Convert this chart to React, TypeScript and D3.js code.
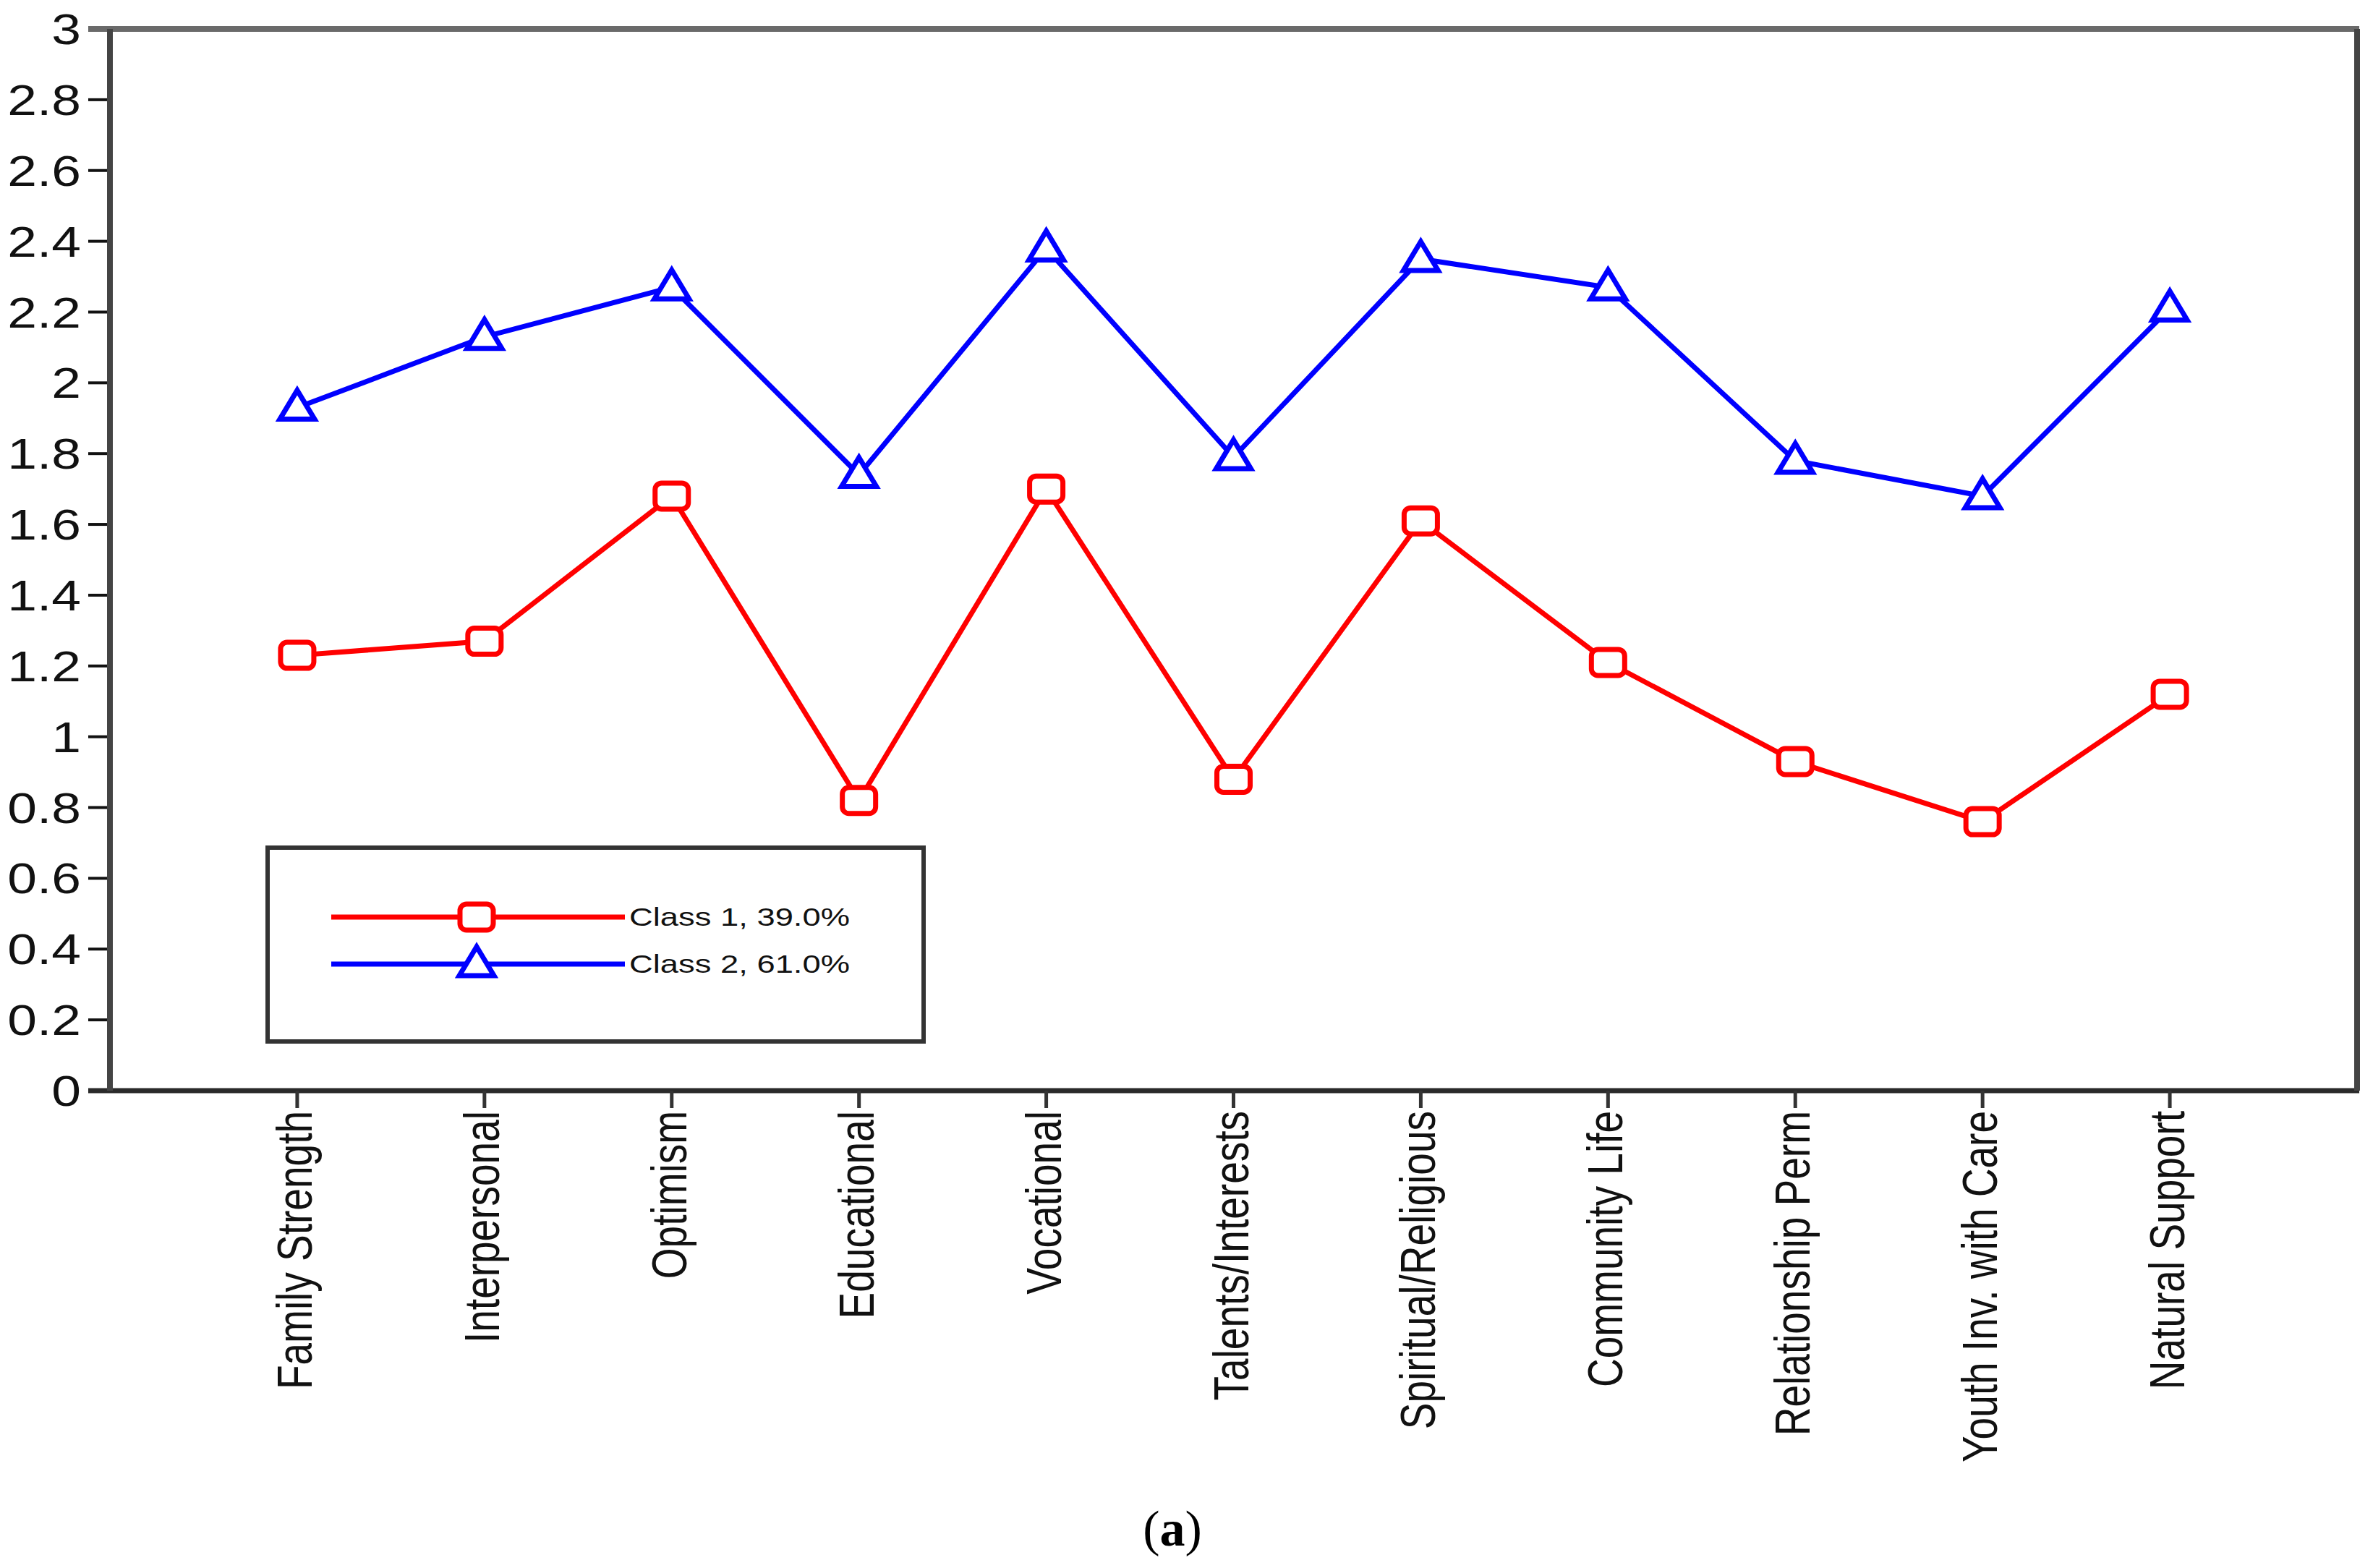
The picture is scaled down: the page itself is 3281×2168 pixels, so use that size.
import React from "react";
import * as d3 from "d3";

// Indicator categories along the x axis
const categories = [
  "Family Strength",
  "Interpersonal",
  "Optimism",
  "Educational",
  "Vocational",
  "Talents/Interests",
  "Spiritual/Religious",
  "Community Life",
  "Relationship Perm",
  "Youth Inv. with Care",
  "Natural Support",
];

// Mean scores per latent class
const class1Values = [1.23, 1.27, 1.68, 0.82, 1.70, 0.88, 1.61, 1.21, 0.93, 0.76, 1.12];
const class2Values = [1.93, 2.13, 2.27, 1.74, 2.38, 1.79, 2.35, 2.27, 1.78, 1.68, 2.21];

const seriesNames = ["Class 1, 39.0%", "Class 2, 61.0%"];
const yTickValues = [0, 0.2, 0.4, 0.6, 0.8, 1, 1.2, 1.4, 1.6, 1.8, 2, 2.2, 2.4, 2.6, 2.8, 3];

const W = 3281;
const H = 2168;
const plot = { left: 152, right: 3259, top: 40, bottom: 1508 };
const FONT = "'Liberation Sans', Arial, sans-serif";
const RED = "#ff0000";
const BLUE = "#0000ff";

function SquareMarker({ x, y, color }: { x: number; y: number; color: string }) {
  const w = 46, h = 36;
  return (
    <rect x={x - w / 2} y={y - h / 2} width={w} height={h} rx={9} ry={9}
      fill="#fff" stroke={color} strokeWidth={7} />
  );
}

function TriangleMarker({ x, y, color }: { x: number; y: number; color: string }) {
  const w = 48, h = 40;
  const pts = [[x, y - h / 2 - 4], [x + w / 2, y + h / 2 - 4], [x - w / 2, y + h / 2 - 4]];
  return (
    <polygon points={pts.map((p) => p.join(",")).join(" ")} fill="#fff"
      stroke={color} strokeWidth={7} strokeLinejoin="miter" />
  );
}

export default function App() {
  const x = d3.scalePoint<string>().domain(categories).range([plot.left, plot.right]).padding(1);
  const y = d3.scaleLinear().domain([0, 3]).range([plot.bottom, plot.top]);

  const line = d3
    .line<number>()
    .x((_, i) => x(categories[i]) as number)
    .y((d) => y(d));

  const fmt = (v: number) => String(+v.toFixed(1));

  const legend = { x0: 370, y0: 1172, x1: 1277, y1: 1440 };
  const legendRows = [
    { name: seriesNames[0], color: RED, y: 1268, marker: "square" },
    { name: seriesNames[1], color: BLUE, y: 1333, marker: "triangle" },
  ];

  return (
    <svg width={W} height={H} viewBox={`0 0 ${W} ${H}`}
      style={{ position: "absolute", left: 0, top: 0, display: "block", background: "#fff" }}>
      <rect x={0} y={0} width={W} height={H} fill="#fff" />

      {/* y ticks and labels */}
      {yTickValues.map((v) => (
        <g key={v}>
          <line x1={122} x2={plot.left} y1={y(v)} y2={y(v)} stroke="#111" strokeWidth={4} />
          <text
            transform={`translate(112,${y(v)}) scale(1.22,1)`}
            textAnchor="end" dominantBaseline="central"
            fontFamily={FONT} fontSize={60} fill="#111">
            {fmt(v)}
          </text>
        </g>
      ))}

      {/* plot frame */}
      <line x1={122} x2={plot.right + 3} y1={plot.top} y2={plot.top} stroke="#6a6a6a" strokeWidth={8} />
      <line x1={122} x2={plot.right + 3} y1={plot.bottom} y2={plot.bottom} stroke="#2a2a2a" strokeWidth={7} />
      <line x1={plot.left} x2={plot.left} y1={plot.top} y2={plot.bottom} stroke="#444" strokeWidth={8} />
      <line x1={plot.right} x2={plot.right} y1={plot.top} y2={plot.bottom} stroke="#444" strokeWidth={8} />

      {/* x ticks and rotated category labels */}
      {categories.map((c) => (
        <g key={c}>
          <line x1={x(c)} x2={x(c)} y1={plot.bottom} y2={plot.bottom + 24} stroke="#333" strokeWidth={5} />
          <text
            transform={`translate(${(x(c) as number) + 20},${plot.bottom + 28}) scale(1.25,1) rotate(-90)`}
            textAnchor="end"
            fontFamily={FONT} fontSize={55} fill="#111">
            {c}
          </text>
        </g>
      ))}

      {/* series lines */}
      <path d={line(class1Values) || ""} fill="none" stroke={RED} strokeWidth={7} strokeLinejoin="miter" />
      <path d={line(class2Values) || ""} fill="none" stroke={BLUE} strokeWidth={7} strokeLinejoin="miter" />

      {/* markers */}
      {class1Values.map((v, i) => (
        <SquareMarker key={`c1-${i}`} x={x(categories[i]) as number} y={y(v)} color={RED} />
      ))}
      {class2Values.map((v, i) => (
        <TriangleMarker key={`c2-${i}`} x={x(categories[i]) as number} y={y(v)} color={BLUE} />
      ))}

      {/* legend */}
      <rect x={legend.x0} y={legend.y0} width={legend.x1 - legend.x0} height={legend.y1 - legend.y0}
        fill="#fff" stroke="#333" strokeWidth={6} />
      {legendRows.map((r) => (
        <g key={r.name}>
          <line x1={458} x2={864} y1={r.y} y2={r.y} stroke={r.color} strokeWidth={7} />
          {r.marker === "square" ? (
            <SquareMarker x={659} y={r.y} color={r.color} />
          ) : (
            <TriangleMarker x={659} y={r.y} color={r.color} />
          )}
          <text transform={`translate(870,${r.y}) scale(1.26,1)`} dominantBaseline="central"
            fontFamily={FONT} fontSize={36} fill="#111">
            {r.name}
          </text>
        </g>
      ))}

      {/* panel caption */}
      <text x={1621} y={2137} textAnchor="middle" fontFamily="'Liberation Serif', 'Times New Roman', serif"
        fontSize={70} fill="#000">
        (<tspan fontWeight="bold">a</tspan>)
      </text>
    </svg>
  );
}
